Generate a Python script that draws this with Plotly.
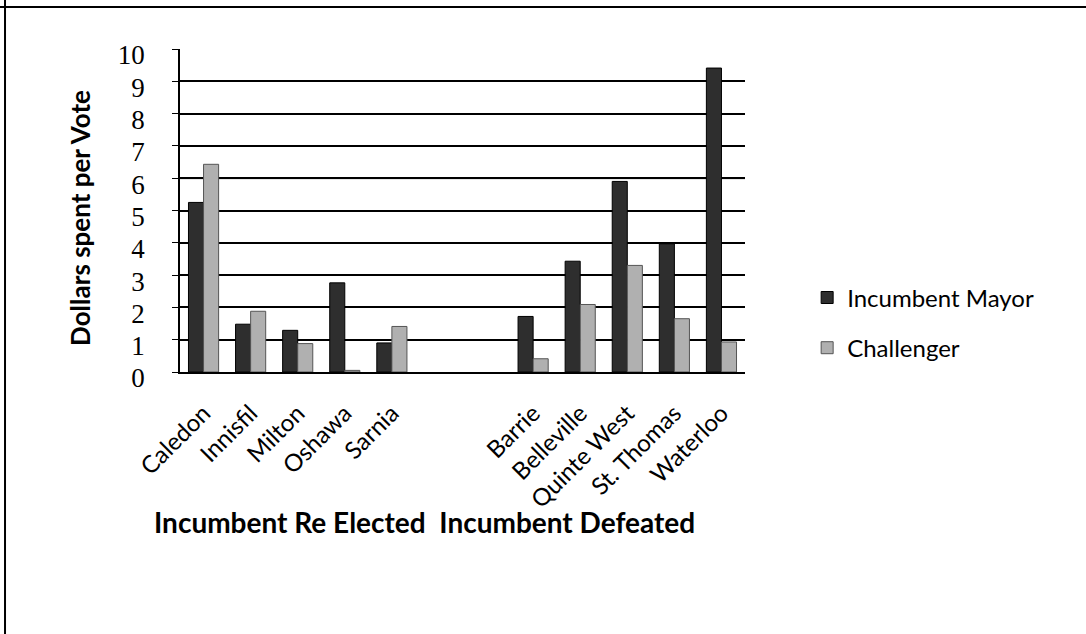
import plotly.graph_objects as go

categories = ["Caledon", "Innisfil", "Milton", "Oshawa", "Sarnia", " ", "  ",
              "Barrie", "Belleville", "Quinte West", "St. Thomas", "Waterloo"]
incumbent_mayor = [5.25, 1.48, 1.29, 2.76, 0.9, None, None, 1.72, 3.43, 5.9, 3.97, 9.41]
challenger = [6.43, 1.88, 0.88, 0.05, 1.41, None, None, 0.41, 2.09, 3.3, 1.65, 0.93]
y_ticks = [0, 1, 2, 3, 4, 5, 6, 7, 8, 9, 10]

fig = go.Figure()
fig.add_trace(go.Bar(x=categories, y=incumbent_mayor, name="Incumbent Mayor",
                     marker=dict(color="#2e2e2e", line=dict(color="#000000", width=1)),
                     legendgroup="a"))
fig.add_trace(go.Bar(x=categories, y=challenger, name="Challenger",
                     marker=dict(color="#b0b0b0", line=dict(color="#555555", width=1)),
                     legendgroup="b"))

fig.update_layout(
    width=1086, height=634,
    margin=dict(l=180, r=341, t=49, b=262),
    paper_bgcolor="white", plot_bgcolor="white",
    barmode="group", bargap=0.36, bargroupgap=0.0,
    font=dict(family="Lato, Open Sans, sans-serif", color="#000000"),
    xaxis=dict(type="category", tickangle=-45, tickfont=dict(size=24, family="Lato"),
               showline=True, linecolor="#000000", linewidth=1.5, ticks="",
               ticklabelstandoff=16,
               showgrid=False),
    yaxis=dict(range=[0, 10], tickvals=y_ticks, ticktext=[str(v) for v in y_ticks],
               tickfont=dict(size=27, family="Liberation Serif"),
               showgrid=True, gridcolor="#000000", gridwidth=1.5,
               showline=True, linecolor="#000000", linewidth=1.5,
               ticks="outside", ticklen=6, tickcolor="#000000",
               ticklabelstandoff=22, ticklabelshift=6,
               zeroline=False),
    legend=dict(x=1.11, y=0.152, xanchor="left", yanchor="middle",
                font=dict(size=24, family="Lato"), traceorder="grouped",
                tracegroupgap=16, bgcolor="rgba(0,0,0,0)", itemwidth=30),
    showlegend=True,
    annotations=[
        dict(text="<b>Dollars spent per Vote</b>", xref="paper", yref="paper",
             x=-0.177, y=0.477, xanchor="center", yanchor="middle", showarrow=False,
             textangle=-90, font=dict(size=26, family="Lato")),
        dict(text="<b>Incumbent Re Elected  Incumbent Defeated</b>", xref="paper", yref="paper",
             x=-0.05, y=-0.465, xanchor="left", yanchor="middle", showarrow=False,
             font=dict(size=28, family="Lato")),
    ],
    shapes=[
        dict(type="line", xref="paper", yref="y", x0=0, x1=1, y0=6, y1=6,
             line=dict(color="#9a9a9a", width=2), layer="below"),
        dict(type="line", xref="paper", yref="paper", x0=-0.3097, x1=-0.3097, y0=1.2, y1=-1.0,
             line=dict(color="#000000", width=2)),
        dict(type="line", xref="paper", yref="paper", x0=-0.35, x1=1.65, y0=1.13, y1=1.13,
             line=dict(color="#000000", width=2)),
    ],
)

fig.write_html("out.html", post_script="document.body.style.margin='0';",
               config={"displayModeBar": False})
